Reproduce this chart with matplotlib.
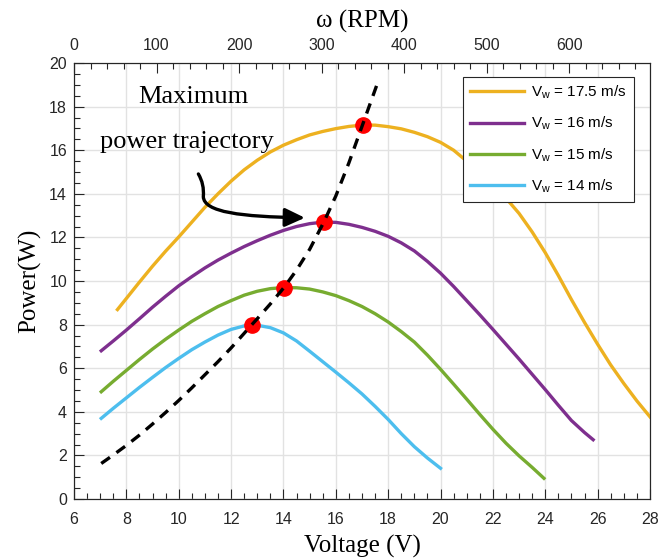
import numpy as np
import matplotlib
matplotlib.use("Agg")
import matplotlib.pyplot as plt
from matplotlib.ticker import MultipleLocator
from matplotlib.path import Path
from matplotlib.patches import FancyArrowPatch

# generator power vs. terminal voltage, one curve per wind speed
v_175 = [7.66, 8.0, 8.5, 9.0, 9.5, 10.0, 10.5, 11.0, 11.5, 12.0, 12.5, 13.0, 13.5, 14.0,
         14.5, 15.0, 15.5, 16.0, 16.5, 17.0, 17.5, 18.0, 18.5, 19.0, 19.5, 20.0, 20.5,
         21.0, 21.5, 22.0, 22.5, 23.0, 23.5, 24.0, 24.5, 25.0, 25.5, 26.0, 26.5, 27.0,
         27.5, 28.0]
p_175 = [8.69, 9.2, 9.95, 10.68, 11.37, 12.02, 12.7, 13.38, 14.0, 14.58, 15.1, 15.54, 15.92, 16.23,
         16.48, 16.7, 16.86, 16.99, 17.09, 17.15, 17.15, 17.08, 16.98, 16.82, 16.62, 16.36, 16.0,
         15.5, 14.95, 14.4, 13.8, 13.1, 12.25, 11.3, 10.25, 9.15, 8.1, 7.1, 6.15, 5.3,
         4.5, 3.77]

v_16 = [7.04, 7.5, 8.0, 8.5, 9.0, 9.5, 10.0, 10.5, 11.0, 11.5, 12.0, 12.5, 13.0, 13.5,
        14.0, 14.5, 15.0, 15.5, 16.0, 16.5, 17.0, 17.5, 18.0, 18.5, 19.0, 19.5, 20.0,
        20.5, 21.0, 21.5, 22.0, 22.5, 23.0, 23.5, 24.0, 24.5, 25.0, 25.5, 25.83]
p_16 = [6.80, 7.25, 7.75, 8.27, 8.8, 9.3, 9.78, 10.2, 10.6, 10.96, 11.28, 11.58, 11.85, 12.1,
        12.32, 12.5, 12.63, 12.7, 12.69, 12.6, 12.46, 12.28, 12.05, 11.75, 11.38, 10.9, 10.36,
        9.75, 9.1, 8.45, 7.78, 7.1, 6.42, 5.72, 5.02, 4.3, 3.6, 3.05, 2.72]

v_15 = [7.04, 7.5, 8.0, 8.5, 9.0, 9.5, 10.0, 10.5, 11.0, 11.5, 12.0, 12.5, 13.0, 13.5,
        14.0, 14.5, 15.0, 15.5, 16.0, 16.5, 17.0, 17.5, 18.0, 18.5, 19.0, 19.5, 20.0,
        20.5, 21.0, 21.5, 22.0, 22.5, 23.0, 23.5, 23.95]
p_15 = [4.92, 5.4, 5.9, 6.4, 6.88, 7.33, 7.75, 8.15, 8.5, 8.83, 9.1, 9.35, 9.53, 9.65,
        9.70, 9.69, 9.63, 9.5, 9.33, 9.1, 8.83, 8.5, 8.12, 7.68, 7.2, 6.6, 5.95,
        5.27, 4.58, 3.88, 3.2, 2.56, 1.98, 1.45, 0.95]

v_14 = [7.04, 7.5, 8.0, 8.5, 9.0, 9.5, 10.0, 10.5, 11.0, 11.5, 12.0, 12.5, 12.78, 13.0,
        13.5, 14.0, 14.5, 15.0, 15.5, 16.0, 16.5, 17.0, 17.5, 18.0, 18.5, 19.0, 19.5, 20.0]
p_14 = [3.70, 4.16, 4.64, 5.12, 5.58, 6.03, 6.45, 6.85, 7.2, 7.52, 7.78, 7.94, 7.98, 7.97,
        7.86, 7.62, 7.25, 6.78, 6.3, 5.82, 5.33, 4.82, 4.25, 3.65, 3.0, 2.4, 1.88, 1.41]

# maximum power trajectory and the peak points on it
v_mpt = [7.04, 7.5, 8.0, 8.5, 9.0, 9.5, 10.0, 10.5, 11.0, 11.5, 12.0, 12.5, 12.78, 13.0,
         13.5, 14.02, 14.5, 15.0, 15.55, 16.0, 16.5, 17.02, 17.57]
p_mpt = [1.63, 2.02, 2.46, 2.93, 3.44, 3.97, 4.52, 5.1, 5.7, 6.3, 6.93, 7.6, 7.98, 8.27,
         8.95, 9.70, 10.5, 11.45, 12.72, 13.9, 15.42, 17.16, 19.0]
v_peak = [12.78, 14.02, 15.55, 17.02]
p_peak = [7.98, 9.70, 12.72, 17.16]

labels = ["V$_w$ = 17.5 m/s", "V$_w$ = 16 m/s", "V$_w$ = 15 m/s", "V$_w$ = 14 m/s"]
colors = ["#EDB120", "#7E2F8E", "#77AC30", "#4DBEEE"]

# rotor speed shown on the top axis (0 rpm at 6 V, ~698 rpm at 28 V)
rpm_max = 698

# annotation arrow: hooked start, then a cubic bend into the horizontal
arrow_xy = [(10.75, 14.91), (10.98, 14.45), (10.94, 13.87),
            (10.96, 13.15), (12.4, 12.95), (14.82, 12.9)]
arrow_codes = [Path.MOVETO, Path.CURVE3, Path.CURVE3,
               Path.CURVE4, Path.CURVE4, Path.CURVE4]

plt.rcParams["font.family"] = "Liberation Sans"
plt.rcParams["mathtext.default"] = "regular"
axcol = "#262626"

fig = plt.figure(figsize=(6.59, 5.6), dpi=100)
ax = fig.add_axes([0.1123, 0.1089, 0.874, 0.7786])

curves = [(v_175, p_175), (v_16, p_16), (v_15, p_15), (v_14, p_14)]
for (v, p), lab, c in zip(curves, labels, colors):
    ax.plot(v, p, color=c, lw=2.4, label=lab, zorder=3)

ax.plot(v_peak, p_peak, "o", color="red", ms=11, zorder=4)
ax.plot(v_mpt, p_mpt, color="k", lw=2.4, ls=(0, (3.2, 2.4)), zorder=5)

arr = FancyArrowPatch(path=Path(arrow_xy, arrow_codes),
                      arrowstyle="-|>,head_length=0.6,head_width=0.28",
                      mutation_scale=20, lw=2.4, color="k", zorder=6)
ax.add_patch(arr)

serif = "Liberation Serif"
ax.text(10.56, 18.17, "Maximum", family=serif, fontsize=19, ha="center", va="baseline")
ax.text(10.32, 16.1, "power trajectory", family=serif, fontsize=19, ha="center", va="baseline")

ax.set_xlim(6, 28)
ax.set_ylim(0, 20)
ax.xaxis.set_major_locator(MultipleLocator(2))
ax.xaxis.set_minor_locator(MultipleLocator(0.5))
ax.yaxis.set_major_locator(MultipleLocator(2))
ax.yaxis.set_minor_locator(MultipleLocator(0.5))
ax.grid(True, which="major", color="#e2e2e2", lw=1)
ax.set_axisbelow(True)
ax.tick_params(which="both", direction="in", colors=axcol, labelsize=11.5, width=0.8,
               top=False, right=False)
ax.tick_params(which="major", length=7)
ax.tick_params(which="minor", length=4)
ax.tick_params(axis="x", pad=9)
ax.tick_params(axis="y", pad=5)
for s in ax.spines.values():
    s.set_color(axcol)
    s.set_linewidth(0.8)

ax.set_xlabel("Voltage (V)", family=serif, fontsize=18, labelpad=6)
ax.set_ylabel("Power(W)", family=serif, fontsize=18, labelpad=6)

ax2 = ax.twiny()
ax2.set_xlim(0, rpm_max)
ax2.xaxis.set_major_locator(MultipleLocator(100))
ax2.xaxis.set_minor_locator(MultipleLocator(20))
ax2.tick_params(which="both", direction="in", colors=axcol, labelsize=11.5, width=0.8, pad=7)
ax2.tick_params(which="major", length=7)
ax2.tick_params(which="minor", length=4)
for s in ax2.spines.values():
    s.set_color(axcol)
    s.set_linewidth(0.8)
ax2.set_xlabel("ω (RPM)", family=serif, fontsize=18, labelpad=8)

leg = ax.legend(loc="upper right", bbox_to_anchor=(0.972, 0.968), fontsize=11,
                handlelength=3.5, handletextpad=0.5, labelspacing=0.9,
                borderpad=0.45, borderaxespad=0, fancybox=False, framealpha=1,
                edgecolor=axcol)
leg.get_frame().set_linewidth(0.8)
leg.set_zorder(10)

fig.savefig("out.png", dpi=100)
